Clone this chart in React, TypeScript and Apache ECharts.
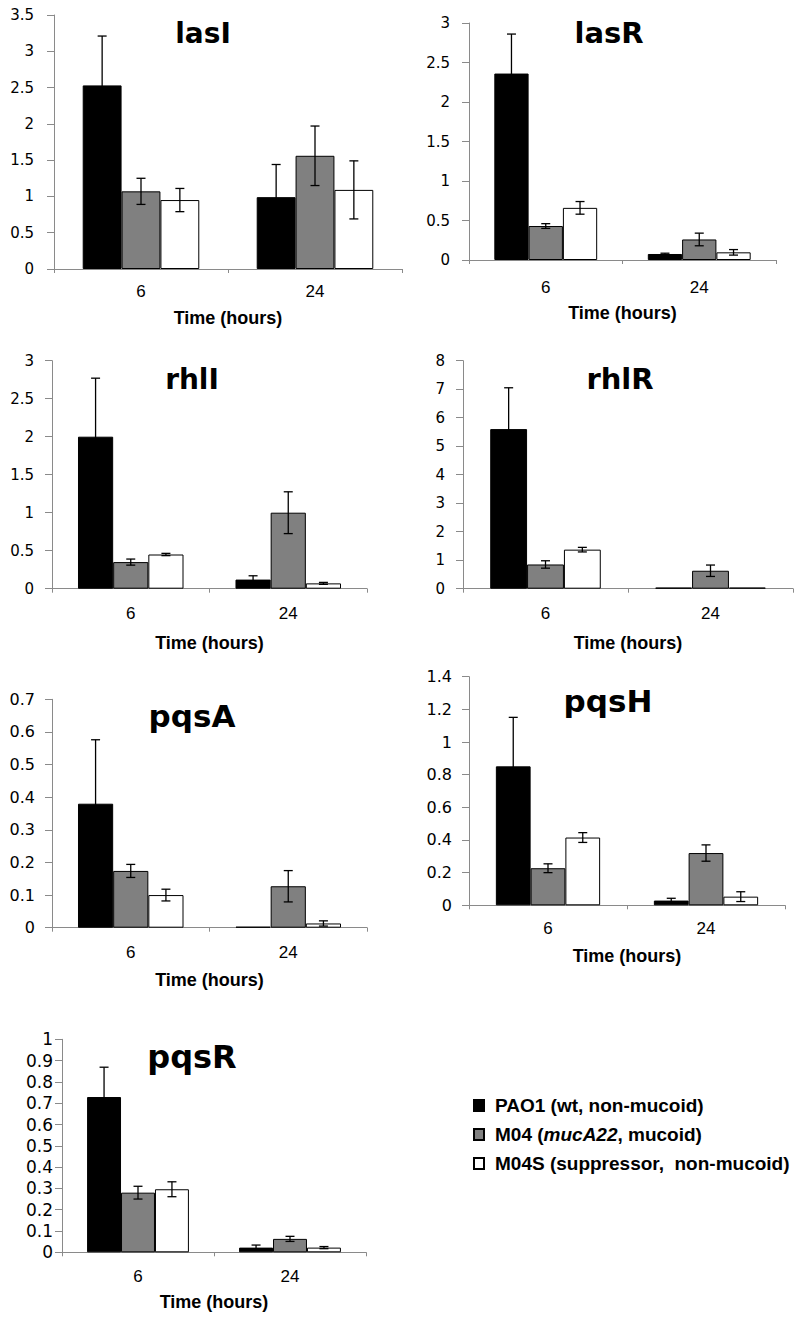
import React, { useEffect, useRef } from "react";
import * as echarts from "echarts";

// ---- data ----
const CATEGORIES = ["6", "24"];
const STRAINS = ["PAO1 (wt, non-mucoid)", "M04 (mucA22, mucoid)", "M04S (suppressor,  non-mucoid)"];
const GENES = ["lasI", "lasR", "rhlI", "rhlR", "pqsA", "pqsH", "pqsR"];

// mean values: [strain][time]
const LASI_MEAN = [[2.53, 0.99], [1.07, 1.56], [0.95, 1.09]];
const LASI_ERR = [[0.68, 0.45], [0.18, 0.41], [0.16, 0.4]];
const LASR_MEAN = [[2.36, 0.076], [0.43, 0.26], [0.66, 0.097]];
const LASR_ERR = [[0.5, 0.01], [0.03, 0.08], [0.08, 0.035]];
const RHLI_MEAN = [[2.0, 0.12], [0.35, 1.0], [0.45, 0.07]];
const RHLI_ERR = [[0.77, 0.05], [0.04, 0.275], [0.015, 0.013]];
const RHLR_MEAN = [[5.6, 0.04], [0.85, 0.63], [1.37, 0.04]];
const RHLR_ERR = [[1.45, 0], [0.13, 0.2], [0.08, 0]];
const PQSA_MEAN = [[0.38, 0.003], [0.174, 0.127], [0.1, 0.013]];
const PQSA_ERR = [[0.196, 0], [0.02, 0.048], [0.018, 0.008]];
const PQSH_MEAN = [[0.851, 0.029], [0.227, 0.32], [0.415, 0.053]];
const PQSH_ERR = [[0.3, 0.014], [0.027, 0.05], [0.03, 0.03]];
const PQSR_MEAN = [[0.729, 0.022], [0.28, 0.063], [0.296, 0.022]];
const PQSR_ERR = [[0.14, 0.012], [0.03, 0.012], [0.035, 0.005]];

const Y_MAX = [3.5, 3, 3, 8, 0.7, 1.4, 1];
const Y_INTERVAL = [0.5, 0.5, 0.5, 1, 0.1, 0.2, 0.1];

const MEANS = [LASI_MEAN, LASR_MEAN, RHLI_MEAN, RHLR_MEAN, PQSA_MEAN, PQSH_MEAN, PQSR_MEAN];
const ERRS = [LASI_ERR, LASR_ERR, RHLI_ERR, RHLR_ERR, PQSA_ERR, PQSH_ERR, PQSR_ERR];

// ---- layout (pixels) ----
const LAYOUT = [
  { left: 54, top: 15, width: 348, height: 254, gap: 0.33, tx: 203, tb: 43.3, tfs: 28, ylm: 20, yfs: 15, xlm: 14, ng: 40 },
  { left: 469, top: 23, width: 307, height: 237, gap: 0.33, tx: 609, tb: 42.7, tfs: 29, ylm: 19, yfs: 15, xlm: 19, ng: 44 },
  { left: 52, top: 360.7, width: 315, height: 228, gap: 0.33, tx: 192, tb: 389.3, tfs: 28, ylm: 18, yfs: 15, xlm: 16, ng: 45 },
  { left: 463, top: 360.7, width: 330, height: 228, gap: 0.33, tx: 620, tb: 389.3, tfs: 29, ylm: 18, yfs: 15, xlm: 16, ng: 45 },
  { left: 52, top: 699.3, width: 315, height: 228.4, gap: 0.33, tx: 192, tb: 727.3, tfs: 31, ylm: 17, yfs: 16, xlm: 16, ng: 43 },
  { left: 469, top: 676.7, width: 316, height: 228.6, gap: 0.34, tx: 608, tb: 711.7, tfs: 31, ylm: 17, yfs: 16, xlm: 15, ng: 42 },
  { left: 62, top: 1039.3, width: 304, height: 213, gap: 0.33, tx: 192, tb: 1067.7, tfs: 32, ylm: 9, yfs: 17, xlm: 16, ng: 41 },
];

const FILLS = ["#000000", "#808080", "#ffffff"];
const AXIS_COLOR = "#8a8a8a";

function buildOption() {
  const grid: any[] = [];
  const xAxis: any[] = [];
  const yAxis: any[] = [];
  const series: any[] = [];
  const graphic: any[] = [];

  GENES.forEach((gene, p) => {
    const L = LAYOUT[p];
    grid.push({ left: L.left, top: L.top, width: L.width, height: L.height, containLabel: false });
    xAxis.push({
      type: "category",
      gridIndex: p,
      data: CATEGORIES,
      name: "Time (hours)",
      nameLocation: "middle",
      nameGap: L.ng,
      nameTextStyle: { fontFamily: "Liberation Sans, Arial", fontWeight: "bold", fontSize: 18, color: "#000" },
      axisLine: { show: true, lineStyle: { color: AXIS_COLOR, width: 1 } },
      axisTick: { show: true, alignWithLabel: false, length: 4, lineStyle: { color: AXIS_COLOR } },
      axisLabel: { margin: L.xlm, fontFamily: "Liberation Sans, Arial", fontSize: 17, color: "#000" },
      splitLine: { show: false },
    });
    yAxis.push({
      type: "value",
      gridIndex: p,
      min: 0,
      max: Y_MAX[p],
      interval: Y_INTERVAL[p],
      axisLine: { show: true, lineStyle: { color: AXIS_COLOR, width: 1 } },
      axisTick: { show: true, length: 7, lineStyle: { color: AXIS_COLOR } },
      axisLabel: { margin: L.ylm, fontFamily: "DejaVu Sans", fontSize: L.yfs, color: "#000" },
      splitLine: { show: false },
    });
    STRAINS.forEach((name, s) => {
      series.push({
        type: "bar",
        name,
        xAxisIndex: p,
        yAxisIndex: p,
        data: MEANS[p][s],
        barGap: "0%",
        barCategoryGap: Math.round(L.gap * 100) + "%",
        itemStyle: { color: FILLS[s], borderColor: "#000", borderWidth: 1 },
        emphasis: { disabled: true },
      });
    });
    const errData: number[][] = [];
    STRAINS.forEach((_, s) => {
      CATEGORIES.forEach((_c, i) => {
        errData.push([i, s, MEANS[p][s][i], ERRS[p][s][i]]);
      });
    });
    const gap = L.gap;
    series.push({
      type: "custom",
      xAxisIndex: p,
      yAxisIndex: p,
      z: 10,
      encode: { x: 0, y: 2 },
      data: errData,
      renderItem: (params: any, api: any) => {
        const ci = api.value(0);
        const s = api.value(1);
        const v = api.value(2);
        const e = api.value(3);
        if (!e) return null;
        const c = api.coord([ci, v]);
        const band = api.size([1, 0])[0];
        const bw = (band * (1 - gap)) / 3;
        const cx = c[0] + (s - 1) * bw;
        const yT = api.coord([ci, v + e])[1];
        const yB = api.coord([ci, Math.max(0, v - e)])[1];
        const hw = 4.5;
        const st = { stroke: "#000", lineWidth: 1.3 };
        return {
          type: "group",
          children: [
            { type: "line", shape: { x1: cx, y1: yT, x2: cx, y2: yB }, style: st },
            { type: "line", shape: { x1: cx - hw, y1: yT, x2: cx + hw, y2: yT }, style: st },
            { type: "line", shape: { x1: cx - hw, y1: yB, x2: cx + hw, y2: yB }, style: st },
          ],
        };
      },
    });
    graphic.push({
      type: "text",
      x: L.tx,
      y: L.tb - 0.35 * L.tfs,
      style: {
        text: gene,
        fontFamily: "DejaVu Sans",
        fontWeight: "bold",
        fontSize: L.tfs,
        fill: "#000",
        align: "center",
        verticalAlign: "middle",
      },
    });
  });

  return {
    animation: false,
    backgroundColor: "#ffffff",
    grid,
    xAxis,
    yAxis,
    series,
    graphic,
    legend: {
      data: STRAINS,
      orient: "vertical",
      left: 468,
      top: 1091,
      icon: "rect",
      itemWidth: 10,
      itemHeight: 11,
      itemGap: 10,
      selectedMode: false,
      formatter: (name: string) => (name.indexOf("mucA22") >= 0 ? "M04 ({i|mucA22}, mucoid)" : name),
      textStyle: {
        fontFamily: "Liberation Sans, Arial",
        fontWeight: "bold",
        fontSize: 19,
        color: "#000",
        padding: [0, 0, 0, 6],
        rich: {
          i: { fontFamily: "Liberation Sans, Arial", fontWeight: "bold", fontStyle: "italic", fontSize: 19, color: "#000" },
        },
      },
    },
  };
}

export default function App() {
  const ref = useRef<HTMLDivElement>(null);
  useEffect(() => {
    if (!ref.current) return;
    const chart = echarts.init(ref.current, undefined, { renderer: "svg" });
    chart.setOption(buildOption() as any);
    return () => chart.dispose();
  }, []);
  return (
    <div
      ref={ref}
      style={{ position: "absolute", left: 0, top: 0, width: 797, height: 1323, background: "#fff" }}
    />
  );
}
